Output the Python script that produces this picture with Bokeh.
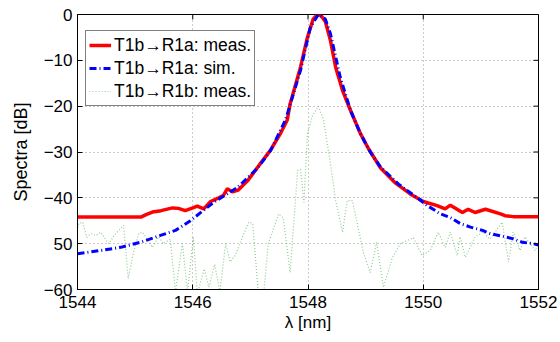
import math
from bokeh.plotting import figure
from bokeh.models import Legend, LegendItem, FixedTicker, Range1d
from bokeh.embed import file_html
from bokeh.resources import INLINE

# T1b -> R1a measured
meas_a_x = [1544.00, 1545.10, 1545.20, 1545.30, 1545.45, 1545.65, 1545.75, 1545.87, 1546.00, 1546.08,
            1546.19, 1546.31, 1546.45, 1546.53, 1546.60, 1546.69, 1546.79, 1546.95, 1547.17, 1547.35,
            1547.52, 1547.64, 1547.69, 1547.87, 1547.99, 1548.09, 1548.14, 1548.18, 1548.23, 1548.30,
            1548.39, 1548.48, 1548.60, 1548.74, 1548.91, 1549.05, 1549.26, 1549.52, 1549.78, 1550.00,
            1550.24, 1550.38, 1550.47, 1550.68, 1550.78, 1550.90, 1551.08, 1551.34, 1551.42, 1551.56,
            1552.00]
meas_a_y = [-44.2, -44.2, -43.6, -43.1, -42.8, -42.2, -42.3, -42.8, -42.2, -41.8,
            -42.4, -40.8, -40.0, -39.5, -38.0, -38.7, -38.3, -36.3, -32.6, -29.6,
            -26.0, -23.0, -19.5, -11.5, -5.0, -1.0, -0.3, 0.0, -0.3, -1.5,
            -5.7, -11.5, -16.6, -21.0, -26.0, -29.3, -33.5, -36.8, -39.2, -40.8,
            -41.7, -42.4, -41.6, -43.2, -42.5, -43.2, -42.5, -43.5, -43.9, -44.1,
            -44.1]

# T1b -> R1a simulated
sim_a_x = [1544.00, 1544.40, 1544.75, 1545.09, 1545.44, 1545.70, 1545.96, 1546.36, 1546.78, 1547.12,
           1547.35, 1547.52, 1547.61, 1547.87, 1548.04, 1548.18, 1548.30, 1548.39, 1548.56, 1548.74,
           1548.91, 1549.08, 1549.26, 1549.57, 1549.72, 1549.92, 1550.07, 1550.30, 1550.47, 1550.64,
           1550.82, 1551.03, 1551.16, 1551.34, 1551.55, 1551.72, 1551.91, 1552.00]
sim_a_y = [-52.2, -51.5, -50.8, -49.7, -48.2, -47.1, -45.0, -41.0, -37.7, -33.6,
           -29.7, -25.3, -23.0, -12.2, -2.8, 0.0, -1.0, -4.2, -13.7, -21.0,
           -26.0, -30.0, -33.3, -37.0, -38.4, -40.2, -41.7, -43.5, -44.3, -45.6,
           -46.4, -47.1, -47.8, -48.3, -48.9, -49.7, -50.0, -50.3]

# T1b -> R1b measured
meas_b_x = [1544.00, 1544.02, 1544.09, 1544.16, 1544.23, 1544.32, 1544.40, 1544.54, 1544.65, 1544.80,
            1544.88, 1544.97, 1545.06, 1545.13, 1545.30, 1545.41, 1545.49, 1545.61, 1545.70, 1545.82,
            1545.91, 1546.01, 1546.08, 1546.20, 1546.28, 1546.38, 1546.47, 1546.57, 1546.65, 1546.74,
            1546.88, 1546.97, 1547.04, 1547.14, 1547.23, 1547.31, 1547.49, 1547.57, 1547.69, 1547.75,
            1547.82, 1547.87, 1547.93, 1547.99, 1548.08, 1548.18, 1548.27, 1548.39, 1548.48, 1548.60,
            1548.68, 1548.77, 1548.96, 1549.08, 1549.19, 1549.31, 1549.46, 1549.60, 1549.83, 1549.98,
            1550.12, 1550.26, 1550.38, 1550.47, 1550.59, 1550.64, 1550.73, 1550.90, 1551.04, 1551.16,
            1551.37, 1551.48, 1551.56, 1551.68, 1551.77, 1551.94, 1552.00]
meas_b_y = [-46.5, -45.6, -45.3, -48.6, -47.8, -48.2, -47.5, -50.0, -48.0, -46.0,
            -57.6, -52.0, -47.8, -47.5, -50.8, -48.5, -50.0, -49.0, -60.5, -50.0,
            -60.5, -48.5, -61.0, -55.5, -59.5, -54.5, -60.5, -50.0, -54.0, -52.5,
            -48.0, -45.3, -45.6, -61.0, -61.0, -50.0, -43.5, -44.4, -56.3, -46.0,
            -34.0, -33.8, -41.0, -26.0, -22.0, -20.0, -23.0, -32.6, -40.6, -47.5,
            -40.6, -40.6, -51.9, -56.3, -49.7, -59.5, -53.2, -50.0, -48.7, -52.6,
            -51.5, -47.5, -50.8, -47.5, -52.6, -48.5, -53.0, -48.5, -47.5, -49.0,
            -45.3, -54.0, -47.5, -51.5, -48.5, -51.5, -50.0]

x_ticks = [1544, 1546, 1548, 1550, 1552]
y_ticks = [-60, -50, -40, -30, -20, -10, 0]
y_tick_labels = {-60: "\u221260", -50: "50", -40: "\u221240", -30: "\u221230",
                 -20: "\u221220", -10: "\u221210", 0: "0"}
legend_labels = ["T1b\u2192R1a: meas.", "T1b\u2192R1a: sim.", "T1b\u2192R1b: meas."]

FONT = "Liberation Sans"

p = figure(width=560, height=342, output_backend="svg", toolbar_location=None,
           x_range=Range1d(1544, 1552), y_range=Range1d(-60, 0),
           min_border_left=77, min_border_right=22, min_border_top=14, min_border_bottom=53)
p.background_fill_color = "white"
p.border_fill_color = "white"
p.outline_line_color = "black"
p.outline_line_width = 1

p.xaxis.ticker = FixedTicker(ticks=x_ticks)
p.yaxis.ticker = FixedTicker(ticks=y_ticks)
p.yaxis.major_label_overrides = y_tick_labels

for ax in (p.xaxis[0], p.yaxis[0]):
    ax.major_tick_in = 5
    ax.major_tick_out = 0
    ax.minor_tick_line_color = None
    ax.axis_line_color = "black"
    ax.major_tick_line_color = "black"
    ax.major_label_text_font = FONT
    ax.major_label_text_font_size = "17px"
    ax.major_label_text_color = "black"
    ax.axis_label_text_font = FONT
    ax.axis_label_text_font_style = "normal"
    ax.axis_label_text_color = "black"

p.xaxis.axis_label = "\u03bb [nm]"
p.xaxis.axis_label_text_font_size = "17px"
p.xaxis.major_label_standoff = 6
p.xaxis.axis_label_standoff = 2
p.yaxis.axis_label = "Spectra [dB]"
p.yaxis.axis_label_text_font_size = "18px"
p.yaxis.major_label_standoff = 5
p.yaxis.axis_label_standoff = 10

for g in (p.xgrid[0], p.ygrid[0]):
    g.grid_line_color = "#999999"
    g.grid_line_dash = "1 3"
    g.grid_line_width = 1

r_b = p.line(meas_b_x, meas_b_y, line_color="#33a033", line_alpha=0.55, line_width=1.2, line_dash="1 2")
r_a = p.line(meas_a_x, meas_a_y, line_color="#ff0000", line_width=3.5)
r_s = p.line(sim_a_x, sim_a_y, line_color="#0000ff", line_width=3, line_dash="7 3 1 3")

# inward tick marks on the top and right edges of the box (clipped to the frame)
p.scatter(x_ticks, [p.y_range.end] * len(x_ticks), marker="dash", size=10, angle=math.pi / 2,
          line_color="black", line_width=1)
p.scatter([p.x_range.end] * len(y_ticks), y_ticks, marker="dash", size=10,
          line_color="black", line_width=1)

legend = Legend(items=[LegendItem(label=legend_labels[0], renderers=[r_a]),
                       LegendItem(label=legend_labels[1], renderers=[r_s]),
                       LegendItem(label=legend_labels[2], renderers=[r_b])],
                location=(8, 183))
legend.border_line_color = "black"
legend.border_line_width = 1
legend.background_fill_color = "white"
legend.background_fill_alpha = 1
legend.label_text_font = FONT
legend.label_text_font_size = "17.5px"
legend.label_text_color = "black"
legend.glyph_width = 22
legend.glyph_height = 22
legend.label_height = 22
legend.spacing = 1
legend.padding = 3
legend.margin = 0
legend.label_standoff = 3
p.add_layout(legend)

open("out.html", "w").write(file_html(p, INLINE))
